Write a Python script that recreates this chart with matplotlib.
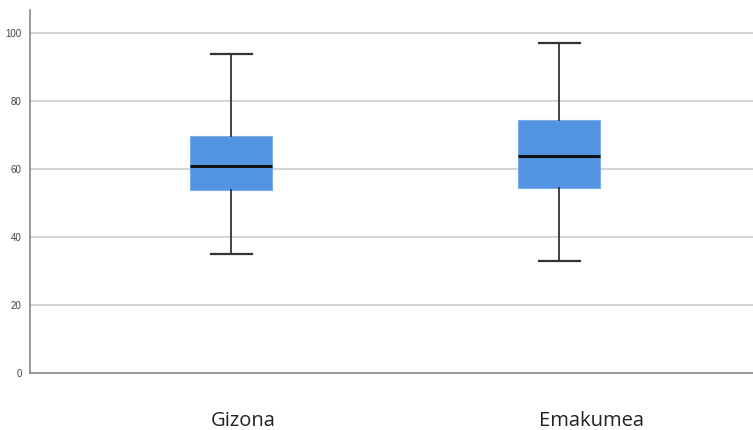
import matplotlib
matplotlib.use("Agg")
import matplotlib.pyplot as plt
from matplotlib.transforms import ScaledTranslation

categories = ["Gizona", "Emakumea"]
whislo = [35.0, 33.0]
q1 = [53.8, 54.4]
med = [61.0, 63.8]
q3 = [69.8, 74.4]
whishi = [94.0, 97.0]
yticks = [0, 20, 40, 60, 80, 100]

stats = []
for i, c in enumerate(categories):
    stats.append(dict(label=c, whislo=whislo[i], q1=q1[i], med=med[i], q3=q3[i], whishi=whishi[i], fliers=[]))

fig = plt.figure(figsize=(7.53, 4.30), dpi=100)
ax = fig.add_axes([30/753, 1-373/430, 1-30/753, (373-10)/430])

ax.bxp(stats, positions=[1, 2], widths=0.25, patch_artist=True, showfliers=False,
       boxprops=dict(facecolor="#5294E2", edgecolor="#7aaeea", linewidth=0.8),
       medianprops=dict(color="#111111", linewidth=2.2),
       whiskerprops=dict(color="#333333", linewidth=1.3),
       capprops=dict(color="#333333", linewidth=1.6),
       capwidths=0.125)

ax.set_xlim(1 - 201/328, 2 + 194/328)
ax.set_ylim(0, 106.8)
ax.set_yticks(yticks)
ax.set_yticklabels([str(v) for v in yticks], fontsize=7, color="#444444", family="Liberation Sans")
ax.set_xticks([1, 2])
ax.set_xticklabels(categories, fontsize=14.5, color="#222222", family="Open Sans")
ax.tick_params(axis="x", length=0, pad=27)
ax.tick_params(axis="y", length=0, pad=6)
for lab, dx in zip(ax.get_xticklabels(), [12, 32]):
    lab.set_transform(lab.get_transform() + ScaledTranslation(dx/100, 0, fig.dpi_scale_trans))

ax.yaxis.grid(True, color="#d4d4d4", linewidth=1.4)
ax.set_axisbelow(True)
for s in ["top", "right"]:
    ax.spines[s].set_visible(False)
ax.spines["left"].set_color("#888888")
ax.spines["bottom"].set_color("#888888")
ax.spines["left"].set_linewidth(1.2)
ax.spines["bottom"].set_linewidth(1.2)

fig.savefig("out.png", dpi=100)
